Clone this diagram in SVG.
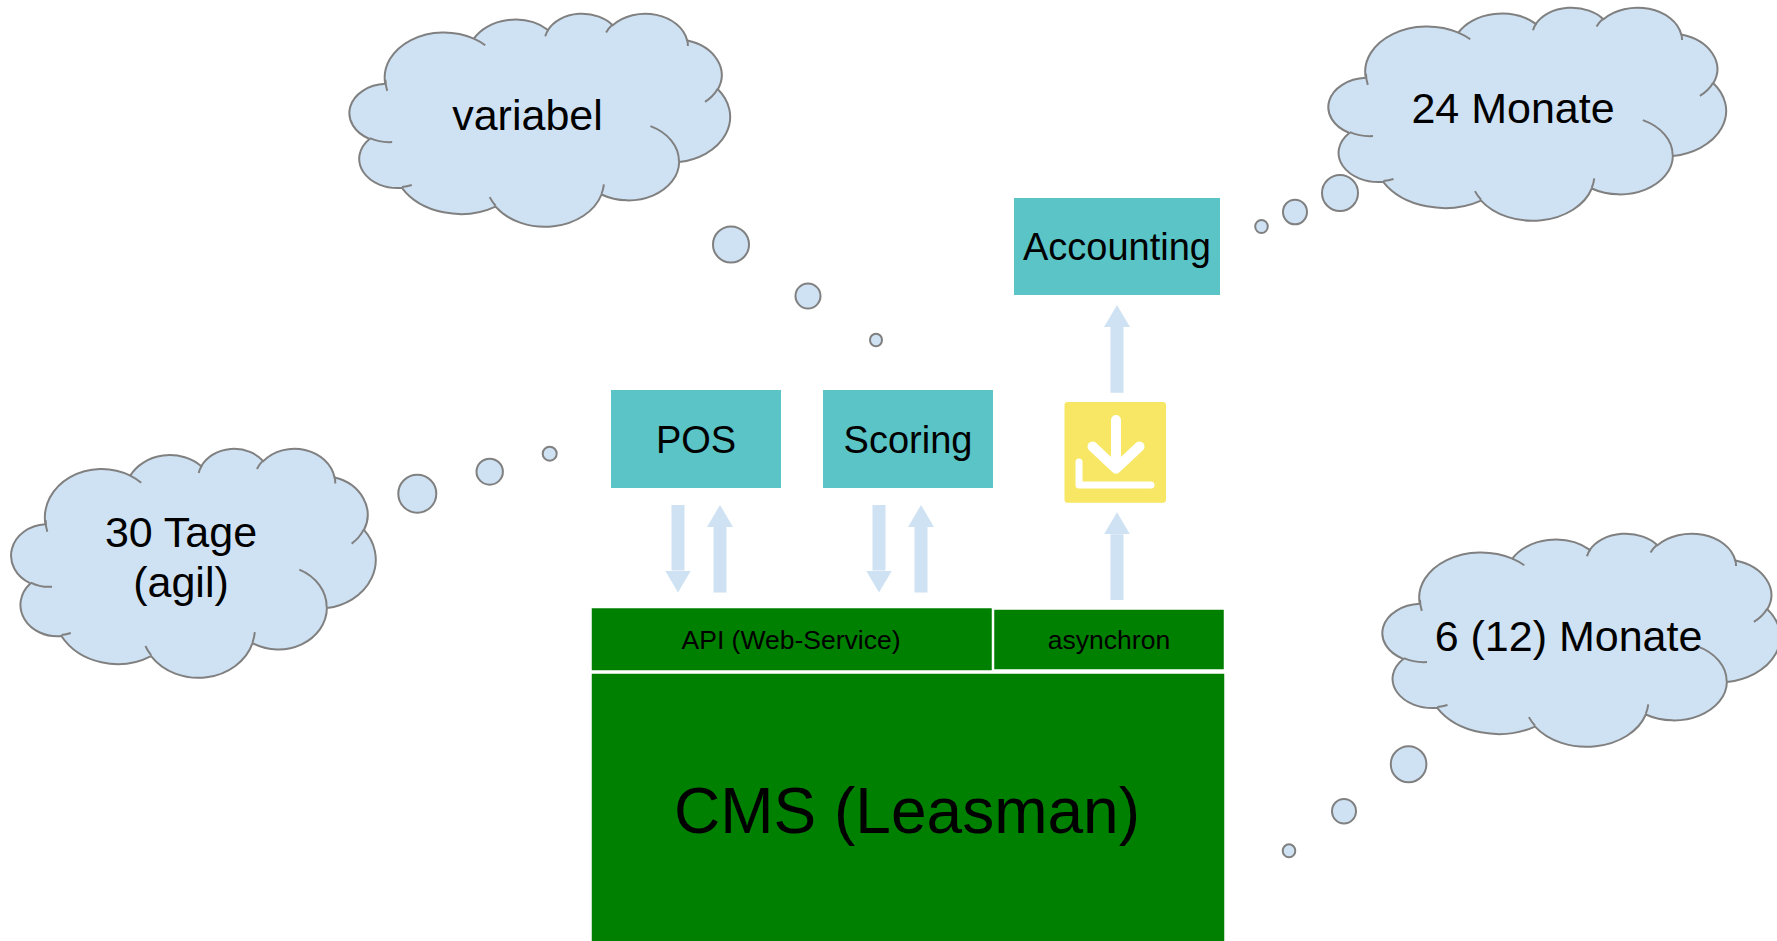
<svg xmlns="http://www.w3.org/2000/svg" width="1777" height="941" viewBox="0 0 1777 941">
<style>
  .cloud{fill:#cfe2f3;stroke:#808080;stroke-width:2}
  .cloudin{fill:none;stroke:#808080;stroke-width:2}
  .bub{fill:#cfe2f3;stroke:#808080;stroke-width:2}
  .teal{fill:#5ac4c6}
  .green{fill:#008000;stroke:#ffffff;stroke-width:1.5}
  .t{font-family:"Liberation Sans",Arial,sans-serif;fill:#000;text-anchor:middle}
  .flow{stroke:#cfe2f3;stroke-width:13;fill:none;marker-end:url(#head)}
  .ico{fill:none;stroke:#ffffff;stroke-linecap:round;stroke-linejoin:round}
</style>
<defs>
  <marker id="head" viewBox="0 0 22 26" refX="0" refY="13" markerWidth="22" markerHeight="26" markerUnits="userSpaceOnUse" orient="auto">
    <path d="M0,0 L22,13 L0,26 Z" fill="#cfe2f3"/>
  </marker>
</defs>
<rect x="0" y="0" width="1777" height="941" fill="#ffffff"/>

<g id="cloud-variabel">
  <path class="cloud" vector-effect="non-scaling-stroke" transform="translate(351,13) scale(0.379,0.213)" d="M90.28,332.64 A156.32,212.73 0 0 1 324.21,120.44 A123.45,168.22 0 0 1 519.83,79.47 A101.04,137.62 0 0 1 690.60,57.43 A112.43,152.66 0 0 1 887.01,129.07 A123.45,168.36 0 0 1 968.03,357.87 A156.83,213.43 0 0 1 865.83,699.12 A133.91,182.11 0 0 1 661.02,852.13 A156.30,213.31 0 0 1 381.50,908.89 A178.70,244.05 0 0 1 134.33,821.04 A100.93,136.99 0 0 1 48.89,591.37 A100.58,137.62 0 0 1 90.28,332.64 Z"/>
  <path class="cloudin" vector-effect="non-scaling-stroke" transform="translate(351,13) scale(0.379,0.213)" d="M108.63,605.95 A100.58,137.62 0 0 1 49.98,587.48 M160.37,807.85 A100.93,136.99 0 0 1 134.70,816.69 M381.44,904.86 A156.30,213.31 0 0 1 365.95,864.54 M667.29,804.42 A156.30,213.31 0 0 1 661.11,848.61 M790.02,531.34 A133.91,182.11 0 0 1 865.30,696.53 M967.55,355.42 A123.45,168.36 0 0 1 934.03,417.36 M887.13,125.60 A112.43,152.66 0 0 1 888.89,154.86 M673.10,91.48 A112.43,152.66 0 0 1 690.28,54.17 M512.52,109.26 A101.04,137.62 0 0 1 520.83,77.11 M324.07,120.19 A156.32,212.73 0 0 1 354.17,151.39 M95.53,365.49 A156.32,212.73 0 0 1 90.83,313.89"/>
  <ellipse class="bub" cx="731" cy="244.5" rx="18" ry="18"/>
  <ellipse class="bub" cx="808" cy="296" rx="12.5" ry="12.5"/>
  <ellipse class="bub" cx="876" cy="340" rx="6" ry="6.3"/>
  <text class="t" x="527.5" y="130" font-size="43">variabel</text>
</g>

<g id="cloud-24monate">
  <path class="cloud" vector-effect="non-scaling-stroke" transform="translate(1330,7) scale(0.396,0.213)" d="M90.28,332.64 A156.32,212.73 0 0 1 324.21,120.44 A123.45,168.22 0 0 1 519.83,79.47 A101.04,137.62 0 0 1 690.60,57.43 A112.43,152.66 0 0 1 887.01,129.07 A123.45,168.36 0 0 1 968.03,357.87 A156.83,213.43 0 0 1 865.83,699.12 A133.91,182.11 0 0 1 661.02,852.13 A156.30,213.31 0 0 1 381.50,908.89 A178.70,244.05 0 0 1 134.33,821.04 A100.93,136.99 0 0 1 48.89,591.37 A100.58,137.62 0 0 1 90.28,332.64 Z"/>
  <path class="cloudin" vector-effect="non-scaling-stroke" transform="translate(1330,7) scale(0.396,0.213)" d="M108.63,605.95 A100.58,137.62 0 0 1 49.98,587.48 M160.37,807.85 A100.93,136.99 0 0 1 134.70,816.69 M381.44,904.86 A156.30,213.31 0 0 1 365.95,864.54 M667.29,804.42 A156.30,213.31 0 0 1 661.11,848.61 M790.02,531.34 A133.91,182.11 0 0 1 865.30,696.53 M967.55,355.42 A123.45,168.36 0 0 1 934.03,417.36 M887.13,125.60 A112.43,152.66 0 0 1 888.89,154.86 M673.10,91.48 A112.43,152.66 0 0 1 690.28,54.17 M512.52,109.26 A101.04,137.62 0 0 1 520.83,77.11 M324.07,120.19 A156.32,212.73 0 0 1 354.17,151.39 M95.53,365.49 A156.32,212.73 0 0 1 90.83,313.89"/>
  <ellipse class="bub" cx="1340" cy="193" rx="18" ry="18"/>
  <ellipse class="bub" cx="1295" cy="212" rx="12" ry="12.3"/>
  <ellipse class="bub" cx="1261.5" cy="226.5" rx="6.3" ry="6.6"/>
  <text class="t" x="1513" y="123" font-size="43">24 Monate</text>
</g>

<g id="cloud-30tage">
  <path class="cloud" vector-effect="non-scaling-stroke" transform="translate(12.6,448) scale(0.363,0.229)" d="M90.28,332.64 A156.32,212.73 0 0 1 324.21,120.44 A123.45,168.22 0 0 1 519.83,79.47 A101.04,137.62 0 0 1 690.60,57.43 A112.43,152.66 0 0 1 887.01,129.07 A123.45,168.36 0 0 1 968.03,357.87 A156.83,213.43 0 0 1 865.83,699.12 A133.91,182.11 0 0 1 661.02,852.13 A156.30,213.31 0 0 1 381.50,908.89 A178.70,244.05 0 0 1 134.33,821.04 A100.93,136.99 0 0 1 48.89,591.37 A100.58,137.62 0 0 1 90.28,332.64 Z"/>
  <path class="cloudin" vector-effect="non-scaling-stroke" transform="translate(12.6,448) scale(0.363,0.229)" d="M108.63,605.95 A100.58,137.62 0 0 1 49.98,587.48 M160.37,807.85 A100.93,136.99 0 0 1 134.70,816.69 M381.44,904.86 A156.30,213.31 0 0 1 365.95,864.54 M667.29,804.42 A156.30,213.31 0 0 1 661.11,848.61 M790.02,531.34 A133.91,182.11 0 0 1 865.30,696.53 M967.55,355.42 A123.45,168.36 0 0 1 934.03,417.36 M887.13,125.60 A112.43,152.66 0 0 1 888.89,154.86 M673.10,91.48 A112.43,152.66 0 0 1 690.28,54.17 M512.52,109.26 A101.04,137.62 0 0 1 520.83,77.11 M324.07,120.19 A156.32,212.73 0 0 1 354.17,151.39 M95.53,365.49 A156.32,212.73 0 0 1 90.83,313.89"/>
  <ellipse class="bub" cx="417.3" cy="493.7" rx="19" ry="19"/>
  <ellipse class="bub" cx="489.7" cy="471.7" rx="13.2" ry="13"/>
  <ellipse class="bub" cx="549.7" cy="453.7" rx="7" ry="7"/>
  <text class="t" x="181" y="547" font-size="43">30 Tage</text>
  <text class="t" x="181" y="597" font-size="43">(agil)</text>
</g>

<g id="cloud-6monate">
  <path class="cloud" vector-effect="non-scaling-stroke" transform="translate(1384,533) scale(0.396,0.213)" d="M90.28,332.64 A156.32,212.73 0 0 1 324.21,120.44 A123.45,168.22 0 0 1 519.83,79.47 A101.04,137.62 0 0 1 690.60,57.43 A112.43,152.66 0 0 1 887.01,129.07 A123.45,168.36 0 0 1 968.03,357.87 A156.83,213.43 0 0 1 865.83,699.12 A133.91,182.11 0 0 1 661.02,852.13 A156.30,213.31 0 0 1 381.50,908.89 A178.70,244.05 0 0 1 134.33,821.04 A100.93,136.99 0 0 1 48.89,591.37 A100.58,137.62 0 0 1 90.28,332.64 Z"/>
  <path class="cloudin" vector-effect="non-scaling-stroke" transform="translate(1384,533) scale(0.396,0.213)" d="M108.63,605.95 A100.58,137.62 0 0 1 49.98,587.48 M160.37,807.85 A100.93,136.99 0 0 1 134.70,816.69 M381.44,904.86 A156.30,213.31 0 0 1 365.95,864.54 M667.29,804.42 A156.30,213.31 0 0 1 661.11,848.61 M790.02,531.34 A133.91,182.11 0 0 1 865.30,696.53 M967.55,355.42 A123.45,168.36 0 0 1 934.03,417.36 M887.13,125.60 A112.43,152.66 0 0 1 888.89,154.86 M673.10,91.48 A112.43,152.66 0 0 1 690.28,54.17 M512.52,109.26 A101.04,137.62 0 0 1 520.83,77.11 M324.07,120.19 A156.32,212.73 0 0 1 354.17,151.39 M95.53,365.49 A156.32,212.73 0 0 1 90.83,313.89"/>
  <ellipse class="bub" cx="1408.6" cy="764.2" rx="17.8" ry="18"/>
  <ellipse class="bub" cx="1344" cy="811.2" rx="12" ry="12.2"/>
  <ellipse class="bub" cx="1289" cy="850.8" rx="6.3" ry="6.5"/>
  <text class="t" x="1568.5" y="651" font-size="43">6 (12) Monate</text>
</g>

<g id="node-pos">
  <rect class="teal" x="611" y="390" width="170" height="98"/>
  <text class="t" x="696" y="453" font-size="38">POS</text>
</g>

<g id="node-scoring">
  <rect class="teal" x="823" y="390" width="170" height="98"/>
  <text class="t" x="908" y="453" font-size="38">Scoring</text>
</g>

<g id="node-accounting">
  <rect class="teal" x="1014" y="198" width="206" height="97"/>
  <text class="t" x="1117" y="260" font-size="38">Accounting</text>
</g>

<g id="node-download">
  <rect x="1064.5" y="402" width="101.5" height="100.7" rx="3" fill="#f7e764"/>
  <path class="ico" stroke-width="10" d="M1116,420 V466 M1092.5,446.5 L1116,468.5 L1139.5,446.5"/>
  <path class="ico" stroke-width="7" d="M1079,462 V485 H1151"/>
</g>

<g id="node-api">
  <rect class="green" x="591" y="607.5" width="401.5" height="63.5"/>
  <text class="t" x="791" y="649" font-size="26.5">API (Web-Service)</text>
</g>

<g id="node-async">
  <rect class="green" x="993.5" y="609" width="231" height="61"/>
  <text class="t" x="1109" y="649" font-size="26.5">asynchron</text>
</g>

<g id="node-cms">
  <rect class="green" x="591" y="673" width="634" height="270"/>
  <text class="t" x="907" y="833" font-size="64">CMS (Leasman)</text>
</g>

<g id="connectors">
  <line class="flow" x1="678" y1="505" x2="678" y2="570.5"/>
  <line class="flow" x1="720" y1="592.5" x2="720" y2="527"/>
  <line class="flow" x1="879" y1="505" x2="879" y2="570.5"/>
  <line class="flow" x1="921" y1="592.5" x2="921" y2="527"/>
  <line class="flow" x1="1117" y1="600" x2="1117" y2="534.3"/>
  <line class="flow" x1="1117" y1="392.7" x2="1117" y2="327"/>
</g>
</svg>
